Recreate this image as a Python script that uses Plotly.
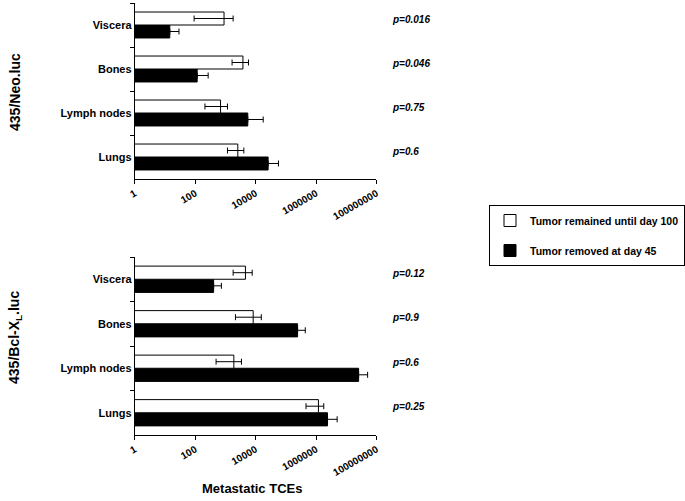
import plotly.graph_objects as go

# ---- data ----
categories = ["Lungs", "Lymph nodes", "Bones", "Viscera"]  # bottom -> top

# 435/Neo.luc
neo_remained = [2570, 690, 3800, 900]
neo_remained_lo = [1170, 210, 1660, 92]
neo_remained_hi = [4070, 1170, 5800, 1800]
neo_removed = [25900, 5500, 116, 14.4]
neo_removed_hi = [57000, 17800, 268, 29]
neo_p = ["p=0.6", "p=0.75", "p=0.046", "p=0.016"]

# 435/Bcl-XL.luc
bcl_remained = [1200000, 1900, 8300, 4600]
bcl_remained_lo = [466000, 490, 2150, 1800]
bcl_remained_hi = [1800000, 3400, 15400, 7700]
bcl_removed = [2400000, 25700000, 245000, 407]
bcl_removed_hi = [5000000, 51000000, 440000, 735]
bcl_p = ["p=0.25", "p=0.6", "p=0.9", "p=0.12"]

tick_vals = [1, 100, 10000, 1000000, 100000000]
tick_text = ["1", "100", "10000", "1000000", "100000000"]

series_names = ["Tumor remained until day 100", "Tumor removed at day 45"]
panel_titles = ["435/Neo.luc", "435/Bcl-X<sub>L</sub>.luc"]
x_title = "Metastatic TCEs"

FONT = "Liberation Sans, Arial, Helvetica, sans-serif"
W, H = 685, 501

fig = go.Figure()

panels = [
    (neo_remained, neo_remained_lo, neo_remained_hi, neo_removed, neo_removed_hi, "x", "y", True),
    (bcl_remained, bcl_remained_lo, bcl_remained_hi, bcl_removed, bcl_removed_hi, "x2", "y2", False),
]

for rem, rem_lo, rem_hi, rmv, rmv_hi, xa, ya, show in panels:
    fig.add_trace(go.Bar(
        y=categories, x=rmv, orientation="h", xaxis=xa, yaxis=ya,
        name=series_names[1], showlegend=show, legendrank=2, legendgroup="removed",
        marker=dict(color="black", line=dict(color="black", width=1)),
        error_x=dict(type="data", symmetric=False,
                     array=[h - v for h, v in zip(rmv_hi, rmv)],
                     arrayminus=[0 for _ in rmv],
                     color="black", thickness=1, width=3),
    ))
    fig.add_trace(go.Bar(
        y=categories, x=rem, orientation="h", xaxis=xa, yaxis=ya,
        name=series_names[0], showlegend=show, legendrank=1, legendgroup="remained",
        marker=dict(color="white", line=dict(color="black", width=1)),
        error_x=dict(type="data", symmetric=False,
                     array=[h - v for h, v in zip(rem_hi, rem)],
                     arrayminus=[v - l for v, l in zip(rem, rem_lo)],
                     color="black", thickness=1, width=3),
    ))

x0, x1 = 135 / W, 377 / W
top_dom = [(H - 179) / H, (H - 3) / H]
bot_dom = [(H - 435) / H, (H - 257) / H]

xaxis_common = dict(
    type="log", range=[0, 8], domain=[x0, x1],
    tickvals=tick_vals, ticktext=tick_text, tickangle=-30,
    tickfont=dict(family=FONT, size=10, color="black", weight="bold"),
    showline=True, linecolor="black", linewidth=1,
    ticks="outside", ticklen=4, tickcolor="black",
    showgrid=False, zeroline=False, automargin=False,
)
yaxis_common = dict(
    type="category", categoryorder="array", categoryarray=categories,
    tickfont=dict(family=FONT, size=11, color="black", weight="bold"),
    showline=True, linecolor="black", linewidth=1,
    ticks="outside", ticklen=4, tickcolor="black", tickson="boundaries",
    showgrid=False, zeroline=False, automargin=False,
)

fig.update_layout(
    width=W, height=H,
    margin=dict(l=0, r=0, t=0, b=0),
    paper_bgcolor="white", plot_bgcolor="white",
    barmode="group", bargap=0.41, bargroupgap=0,
    font=dict(family=FONT, color="black"),
    xaxis=dict(**xaxis_common, anchor="y"),
    yaxis=dict(**yaxis_common, domain=top_dom, anchor="x"),
    xaxis2=dict(**xaxis_common, anchor="y2"),
    yaxis2=dict(**yaxis_common, domain=bot_dom, anchor="x2"),
    legend=dict(
        x=490 / W, y=(H - 205) / H, xanchor="left", yanchor="top",
        bordercolor="black", borderwidth=1, bgcolor="white",
        font=dict(family=FONT, size=10.5, color="black", weight="bold"),
        tracegroupgap=11, itemwidth=30,
    ),
)

annotations = []
for pvals, ya in [(neo_p, "y"), (bcl_p, "y2")]:
    for cat, p in zip(categories, pvals):
        annotations.append(dict(
            x=391 / W, xref="paper", y=cat, yref=ya, yshift=6,
            text=p, showarrow=False, xanchor="left", yanchor="middle",
            font=dict(family=FONT, size=10, color="black", weight="bold", style="italic"),
        ))

annotations.append(dict(x=15 / W, y=(H - 92) / H, xref="paper", yref="paper",
                        xanchor="center", yanchor="middle",
                        text=panel_titles[0], textangle=-90, showarrow=False,
                        font=dict(family=FONT, size=14, color="black", weight="bold")))
annotations.append(dict(x=15 / W, y=(H - 337) / H, xref="paper", yref="paper",
                        xanchor="center", yanchor="middle",
                        text=panel_titles[1], textangle=-90, showarrow=False,
                        font=dict(family=FONT, size=14, color="black", weight="bold")))
annotations.append(dict(x=252 / W, y=(H - 488) / H, xref="paper", yref="paper",
                        xanchor="center", yanchor="middle",
                        text=x_title, showarrow=False,
                        font=dict(family=FONT, size=13, color="black", weight="bold")))
fig.update_layout(annotations=annotations)

fig.write_html("out.html", config={"displayModeBar": False},
               post_script="document.body.style.margin='0';")
